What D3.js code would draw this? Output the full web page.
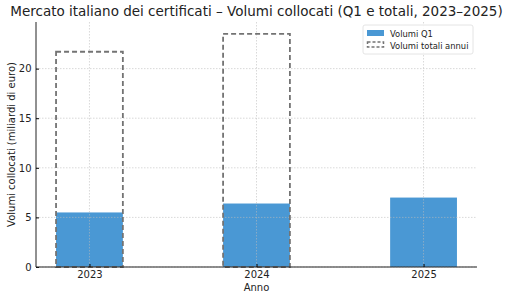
<!DOCTYPE html>
<html>
<head>
<meta charset="utf-8">
<script src="https://cdn.jsdelivr.net/npm/d3@7"></script>
<style>
  body { margin: 0; background: #fff; }
  text { font-family: "DejaVu Sans", sans-serif; fill: #222; }
</style>
</head>
<body>
<div id="chart"></div>
<script>
var years = [2023, 2024, 2025]
var q1Volumes = [5.5, 6.4, 7.0]
var totalYears = [2023, 2024]
var totalVolumes = [21.7, 23.5]
var yTicks = [0, 5, 10, 15, 20]

var W = 511, H = 300
var m = {left: 36, right: 34, top: 22, bottom: 33}

var svg = d3.select('#chart').append('svg')
  .attr('width', W)
  .attr('height', H)

var x = d3.scaleLinear().domain([2022.68, 2025.32]).range([m.left, W - m.right])
var y = d3.scaleLinear().domain([0, 24.7]).range([H - m.bottom, m.top])
var bw = x(2023.2) - x(2022.8)

// Q1 bars
svg.append('g').selectAll('rect').data(q1Volumes).enter().append('rect')
  .attr('x', (d, i) => x(years[i]) - bw / 2)
  .attr('width', bw)
  .attr('y', d => y(d))
  .attr('height', d => y(0) - y(d))
  .attr('fill', '#4a98d4')

// grid (above bars, like matplotlib)
svg.append('g').selectAll('line').data(yTicks).enter().append('line')
  .attr('x1', m.left).attr('x2', W - m.right)
  .attr('y1', d => y(d)).attr('y2', d => y(d))
  .attr('stroke', '#bbb').attr('stroke-opacity', 0.7).attr('stroke-width', 0.8).attr('stroke-dasharray', '1.5,1.5')
svg.append('g').selectAll('line').data(years).enter().append('line')
  .attr('x1', d => x(d)).attr('x2', d => x(d))
  .attr('y1', m.top).attr('y2', H - m.bottom)
  .attr('stroke', '#bbb').attr('stroke-opacity', 0.7).attr('stroke-width', 0.8).attr('stroke-dasharray', '1.5,1.5')

// totals, dashed outline
svg.append('g').selectAll('rect').data(totalVolumes).enter().append('rect')
  .attr('x', (d, i) => x(totalYears[i]) - bw / 2)
  .attr('width', bw)
  .attr('y', d => y(d))
  .attr('height', d => y(0) - y(d))
  .attr('fill', 'none')
  .attr('stroke', '#737373')
  .attr('stroke-width', 1.8)
  .attr('stroke-dasharray', '5,3')

// axes
var yAxis = d3.axisLeft(y).tickValues(yTicks).tickSize(-3).tickPadding(4.5)
var gy = svg.append('g').attr('transform', 'translate(' + m.left + ',0)').call(yAxis)
gy.selectAll('text').style('font-size', '10px')
gy.select('.domain').attr('d', 'M0,' + m.top + 'V' + (H - m.bottom)).attr('stroke', '#222')

var xAxis = d3.axisBottom(x).tickValues(years).tickFormat(d3.format('d')).tickSize(-3).tickPadding(4)
var gx = svg.append('g').attr('transform', 'translate(0,' + (H - m.bottom) + ')').call(xAxis)
gx.selectAll('text').style('font-size', '10px')
gx.select('.domain').attr('d', 'M' + m.left + ',0H' + (W - m.right)).attr('stroke', '#222')

// labels
svg.append('text').attr('x', W / 2 + 1).attr('y', 16).attr('text-anchor', 'middle')
  .style('font-size', '13.5px').text('Mercato italiano dei certificati – Volumi collocati (Q1 e totali, 2023–2025)')
svg.append('text').attr('x', (m.left + W - m.right) / 2).attr('y', 291).attr('text-anchor', 'middle')
  .style('font-size', '10px').text('Anno')
svg.append('text').attr('transform', 'translate(15,' + ((m.top + H - m.bottom) / 2) + ') rotate(-90)')
  .attr('text-anchor', 'middle').style('font-size', '10px').text('Volumi collocati (miliardi di euro)')

// legend
var lg = svg.append('g').attr('transform', 'translate(363,25)')
lg.append('rect').attr('width', 110).attr('height', 29).attr('rx', 2)
  .attr('fill', 'white').attr('fill-opacity', 0.85).attr('stroke', '#ddd').attr('stroke-width', 0.8)
lg.append('rect').attr('x', 4).attr('y', 5).attr('width', 17).attr('height', 6).attr('fill', '#4a98d4')
lg.append('rect').attr('x', 4.5).attr('y', 17).attr('width', 16).attr('height', 5)
  .attr('fill', 'none').attr('stroke', '#737373').attr('stroke-width', 1.5).attr('stroke-dasharray', '3,2')
lg.append('text').attr('x', 27).attr('y', 11.5).style('font-size', '8.4px').text('Volumi Q1')
lg.append('text').attr('x', 27).attr('y', 23.5).style('font-size', '8.4px').text('Volumi totali annui')
</script>
</body>
</html>
